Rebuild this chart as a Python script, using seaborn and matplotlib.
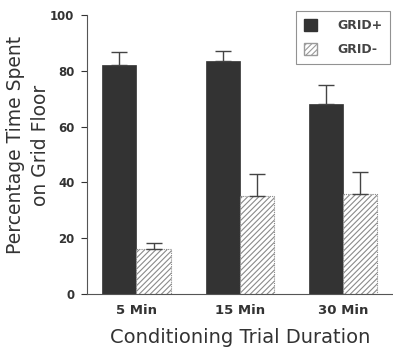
import numpy as np
import pandas as pd
import matplotlib
matplotlib.use("Agg")
import matplotlib.pyplot as plt
from matplotlib.patches import Patch
import seaborn as sns

durations = ["5 Min", "15 Min", "30 Min"]
groups = ["GRID+", "GRID-"]
grid_plus = [82, 83.5, 68]
grid_minus = [16, 35, 36]
err_plus = [4.7, 3.5, 7]
err_minus = [2.3, 8, 7.7]

sns.set_style("ticks")
plt.rcParams['font.family'] = ['DejaVu Sans']
plt.rcParams['hatch.color'] = "#9a9a9a"
plt.rcParams['hatch.linewidth'] = 0.8

df = pd.DataFrame({
    "duration": durations * 2,
    "group": [groups[0]] * 3 + [groups[1]] * 3,
    "pct": grid_plus + grid_minus,
})

fig = plt.figure(figsize=(3.93, 3.48), dpi=100)
ax = fig.add_axes([0.221, 0.155, 0.779, 0.802])

sns.barplot(data=df, x="duration", y="pct", hue="group", order=durations,
            hue_order=groups, palette=["#333333", "white"], errorbar=None,
            width=0.66, saturation=1, ax=ax, legend=False)

# dark bars first, then hatched ones
bars = ax.patches[:6]
for i, p in enumerate(bars):
    if i < 3:
        p.set_edgecolor("#333333")
        p.set_linewidth(0.5)
    else:
        p.set_facecolor("white")
        p.set_hatch("//////")
        p.set_edgecolor("#8a8a8a")
        p.set_linestyle((0, (1, 1)))
        p.set_linewidth(0.8)

errs = err_plus + err_minus
for p, e in zip(bars, errs):
    xc = p.get_x() + p.get_width() / 2
    ax.errorbar(xc, p.get_height(), yerr=[[0], [e]], fmt="none",
                ecolor="#444444", elinewidth=1, capsize=5.8, capthick=1)

ax.set_ylim(0, 100)
ax.set_xlim(-0.48, 2.48)
ax.set_yticks([0, 20, 40, 60, 80, 100])
ax.tick_params(axis="y", length=4, width=0.8, labelsize=8.5, colors="#333333",
               pad=5)
ax.tick_params(axis="x", length=0, labelsize=9.5, colors="#333333", pad=7)
for lab in ax.get_yticklabels() + ax.get_xticklabels():
    lab.set_fontweight("bold")
sns.despine(ax=ax)
for s in ["left", "bottom"]:
    ax.spines[s].set_color("#555555")
    ax.spines[s].set_linewidth(0.8)

ax.set_xlabel("Conditioning Trial Duration", fontsize=14, color="#333333",
              labelpad=8)
ax.set_ylabel("Percentage Time Spent\non Grid Floor", fontsize=13.5,
              color="#333333", linespacing=1.4)
ax.yaxis.set_label_coords(-0.122, 0.534)

handles = [Patch(facecolor="#333333", edgecolor="#333333"),
           Patch(facecolor="white", edgecolor="#9a9a9a", hatch="//////")]
leg = fig.legend(handles, groups, loc="upper right",
                 bbox_to_anchor=(0.993, 0.968), borderaxespad=0,
                 frameon=True, fancybox=False,
                 edgecolor="#777777", fontsize=9, handlelength=1.1,
                 handleheight=1.1, handletextpad=1.6, borderpad=0.6,
                 labelspacing=0.9)
leg.get_frame().set_linewidth(0.8)
for t in leg.get_texts():
    t.set_fontweight("bold")
    t.set_color("#444444")

fig.savefig("out.png", dpi=100)
